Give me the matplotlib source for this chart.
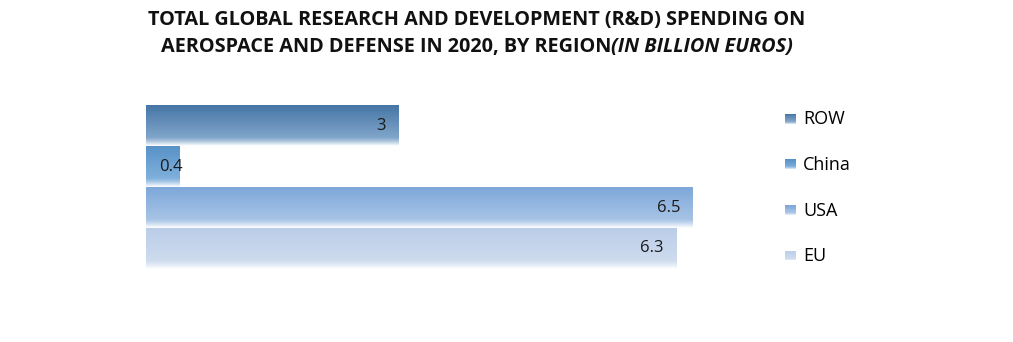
import numpy as np
import matplotlib.pyplot as plt
from matplotlib.patches import Patch, Rectangle
from matplotlib.legend_handler import HandlerBase
from matplotlib.colors import to_rgb

regions = ['ROW', 'China', 'USA', 'EU']
spending = [3, 0.4, 6.5, 6.3]
# top colour and lower colour of each bar's gradient
top_colors = ['#4676a6', '#5892c7', '#7ea8d9', '#bacde8']
low_colors = ['#7fa4c9', '#7fb0dc', '#a6c3e6', '#cedbee']

plt.rcParams['font.family'] = ['Open Sans', 'DejaVu Sans']


def gradient(top, low, n=100, fade=0.22):
    t = np.linspace(0, 1, n)[:, None]
    c0, c1, w = np.array(to_rgb(top)), np.array(to_rgb(low)), np.ones(3)
    col = c0 + (c1 - c0) * np.clip(t / (1 - fade), 0, 1)
    k = np.clip((t - (1 - fade)) / fade, 0, 1) ** 1.3
    col = col * (1 - k) + w * k
    return col[:, None, :]


class GradientSquare(HandlerBase):
    def create_artists(self, legend, orig_handle, xdescent, ydescent,
                       width, height, fontsize, trans):
        g = gradient(orig_handle.top, orig_handle.low, n=12, fade=0.3)[:, 0, :]
        s = height * 0.85
        x0 = width - s
        out = []
        for i, c in enumerate(g):
            out.append(Rectangle((x0, -ydescent + s - (i + 1) * s / len(g)),
                                 s, s / len(g), facecolor=c, edgecolor='none',
                                 transform=trans))
        return out


fig = plt.figure(figsize=(10.13, 3.42), dpi=100)
ax = fig.add_axes([146 / 1013, 73 / 342, 620 / 1013, 164 / 342])

y = np.arange(len(regions))
bars = ax.barh(y, spending, height=1.0, color='none', edgecolor='none')

for bar, top, low, val in zip(bars, top_colors, low_colors, spending):
    x0, y0 = bar.get_x(), bar.get_y()
    w, h = bar.get_width(), bar.get_height()
    im = ax.imshow(gradient(top, low), extent=[x0, x0 + w, y0 + h, y0],
                   aspect='auto', zorder=1, interpolation='bilinear')
    im.set_clip_path(bar)
    yc = y0 + h / 2
    if val >= 1:
        ax.annotate(str(val), (x0 + w, yc), xytext=(-9, 0),
                    textcoords='offset points', ha='right', va='center',
                    fontsize=12, color='#1a1a1a', zorder=3)
    else:
        ax.annotate(str(val), (x0, yc), xytext=(9.5, 0),
                    textcoords='offset points', ha='left', va='center',
                    fontsize=12, color='#1a1a1a', zorder=3)
ax.set_xlim(0, 620 / 84.15)
ax.set_ylim(len(regions) - 0.5, -0.5)
ax.axis('off')

handles = []
for top, low in zip(top_colors, low_colors):
    p = Patch()
    p.top, p.low = top, low
    handles.append(p)
fig.legend(handles, regions, loc='upper left', bbox_to_anchor=(769 / 1013, 1 - 96 / 342),
           frameon=False, fontsize=13, handler_map={Patch: GradientSquare()},
           handlelength=0.7, handleheight=0.7, handletextpad=0.4,
           labelspacing=1.53, borderpad=0.3)

# title, second line mixes upright and italic text
fig.text(477 / 1013, 1 - 20 / 342, 'TOTAL GLOBAL RESEARCH AND DEVELOPMENT (R&D) SPENDING ON',
         ha='center', va='center', fontsize=14.3, fontweight='bold', color='#111111')
t1 = fig.text(0, 1 - 47 / 342, 'AEROSPACE AND DEFENSE IN 2020, BY REGION',
              ha='left', va='center', fontsize=14.3, fontweight='bold', color='#111111')
t2 = fig.text(0, 1 - 47 / 342, '(IN BILLION EUROS)', ha='left', va='center',
              fontsize=14.3, fontweight='bold', style='italic', color='#111111')
fig.canvas.draw()
r = fig.canvas.get_renderer()
w1 = t1.get_window_extent(r).width
w2 = t2.get_window_extent(r).width
start = 477 - (w1 + w2) / 2
t1.set_x(start / 1013)
t2.set_x((start + w1) / 1013)

fig.savefig('out.png', dpi=100, facecolor='white')
